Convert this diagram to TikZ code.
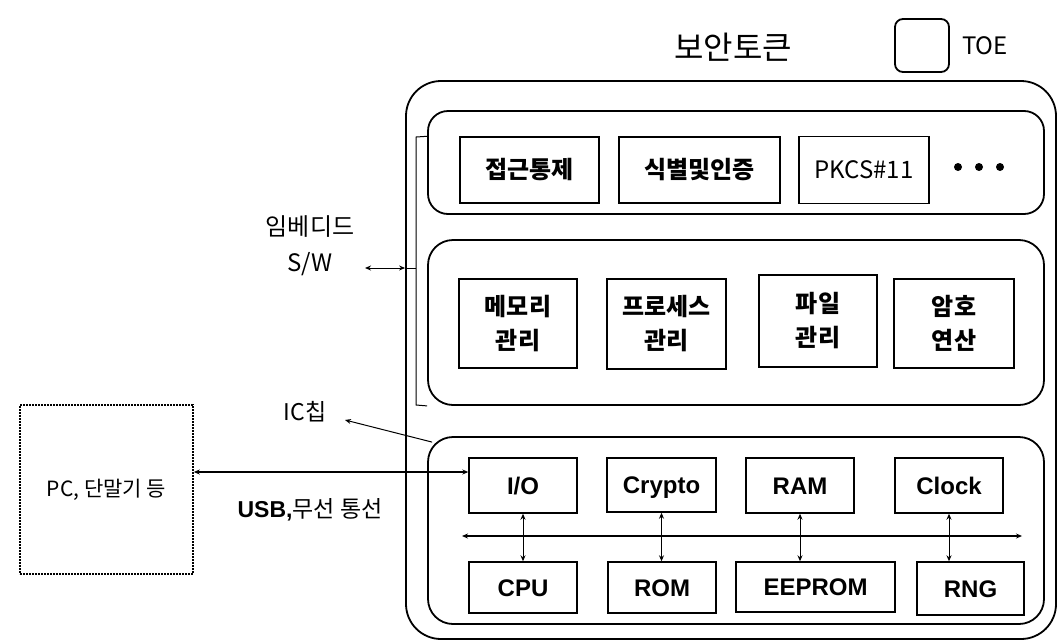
\documentclass[tikz,border=0pt]{standalone}
\usepackage{fontspec}
\setmainfont{Liberation Sans}
\newfontfamily\kr{Noto Sans CJK KR}
\usetikzlibrary{arrows.meta}
\begin{document}
\begin{tikzpicture}[x=1pt,y=-1pt,
 panel/.style={draw, line width=1.8pt, inner sep=0pt},
 box/.style={draw, line width=1.4pt, inner sep=0pt, align=center},
 krbox/.style={box, font=\kr\bfseries\fontsize{24}{34}\selectfont},
 enbox/.style={box, font=\bfseries\fontsize{24}{27}\selectfont, text height=17pt, text depth=0pt},
 lbl/.style={inner sep=0pt, align=center},
 arr/.style={line width=1pt, {Stealth[length=6pt,width=5pt]}-{Stealth[length=6pt,width=5pt]}},
 ]
\useasboundingbox (0,0) rectangle (1059,640);

% title and legend
\node[lbl, font=\kr\fontsize{32}{36}\selectfont] (title) at (733,47) {보안토큰};
\node[draw, line width=1.8pt, rounded corners=8pt, minimum width=54pt, minimum height=53pt, inner sep=0pt] (toebox) at (922,45.5) {};
\node[lbl, font=\kr\fontsize{24}{28}\selectfont] (toe) at (985,46) {TOE};

% outer token and panels
\node[panel, rounded corners=35pt, minimum width=650pt, minimum height=558pt] (token) at (731,360) {};
\node[panel, rounded corners=20pt, minimum width=616pt, minimum height=103pt] (p1) at (736,162.5) {};
\node[panel, rounded corners=25pt, minimum width=616pt, minimum height=165pt] (p2) at (736,322.5) {};
\node[panel, rounded corners=25pt, minimum width=616pt, minimum height=187pt] (p3) at (736,530.5) {};

% top panel
\node[krbox, minimum width=139pt, minimum height=66pt] (ac) at (529.5,170) {접근통제};
\node[krbox, minimum width=161pt, minimum height=66pt] (idau) at (699.5,170) {식별및인증};
\node[krbox, font=\kr\fontsize{24}{34}\selectfont, minimum width=130pt, minimum height=67pt] (pk) at (864,170) {PKCS\#11};
\fill (958,167) circle (4pt) (979,167) circle (4pt) (1000,167) circle (4pt);

% middle panel
\node[krbox, minimum width=118pt, minimum height=89pt] (mem) at (518,323.5) {메모리\\관리};
\node[krbox, minimum width=119pt, minimum height=90pt] (proc) at (666.5,324) {프로세스\\관리};
\node[krbox, minimum width=118pt, minimum height=92pt] (file) at (818,321) {파일\\관리};
\node[krbox, minimum width=120pt, minimum height=89pt] (cry) at (954,323.5) {암호\\연산};

% bottom panel
\node[enbox, minimum width=108pt, minimum height=55pt] (io) at (523,485.5) {I/O};
\node[enbox, minimum width=109pt, minimum height=54pt] (crypto) at (661.5,485) {Crypto};
\node[enbox, minimum width=108pt, minimum height=55pt] (ram) at (800,485.5) {RAM};
\node[enbox, minimum width=108pt, minimum height=55pt] (clock) at (949,485.5) {Clock};
\node[enbox, minimum width=108pt, minimum height=51pt] (cpu) at (523,587.5) {CPU};
\node[enbox, minimum width=108pt, minimum height=51pt] (rom) at (662,587.5) {ROM};
\node[enbox, minimum width=159pt, minimum height=50pt] (eeprom) at (815.5,587) {EEPROM};
\node[enbox, minimum width=107pt, minimum height=53pt] (rng) at (970.5,588.5) {RNG};

\coordinate (busl) at (462,536);
\coordinate (busr) at (1022,536);
\draw[arr, line width=1.3pt] (busl) -- (busr);
\draw[arr] (io.south) -- (cpu.north);
\draw[arr] (crypto.south) -- (crypto.south |- rom.north);
\draw[arr] (ram.south) -- (ram.south |- eeprom.north);
\draw[arr] (clock.south) -- (clock.south |- rng.north);

% left side
\node[draw, line width=1.6pt, dash pattern=on 2pt off 1pt, minimum width=173pt, minimum height=169pt, inner sep=0pt] (pc) at (106.5,489.5) {};
\node[lbl, font=\kr\fontsize{21}{24}\selectfont] (pclbl) at (pc.center) {PC, 단말기 등};
\coordinate (usb) at ([yshift=13.5pt]io.west);
\draw[arr, line width=1.3pt] (pc.east |- usb) -- (usb);
\node[lbl, font=\kr\fontsize{23}{26}\selectfont] (usblbl) at (310,510) {\textbf{\rmfamily USB,}무선 통선};

\node[lbl, font=\kr\fontsize{24}{36}\selectfont] (sw) at (310,246) {임베디드\\S/W};
\coordinate (swa) at (365,268);
\draw[arr] (swa) -- (swa -| token.west);
\draw[line width=1pt] (swa -| token.west) -- (416,268);
\draw[line width=1pt] (p1.west |- ac.north) -- (416,137) -- (416,405) -- (p2.south west);

\node[lbl, font=\kr\fontsize{23}{26}\selectfont] (ic) at (305,412) {IC칩};
\coordinate (icarr) at (345,420);
\coordinate (icend) at ([shift={(5,6)}]p3.north west);
\draw[line width=1pt, -{Stealth[length=6pt,width=5pt]}] (icend) -- (icarr);
\end{tikzpicture}
\end{document}
